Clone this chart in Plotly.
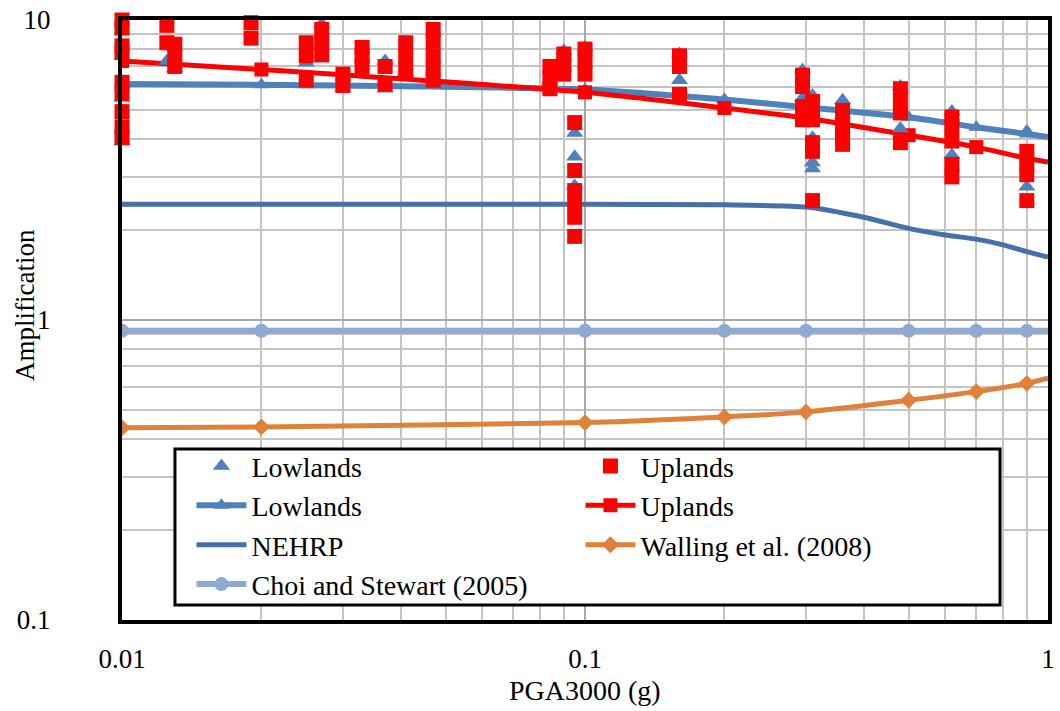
import plotly.graph_objects as go

# ---- data ---------------------------------------------------------------
# Site-amplification observations (PGA on rock, amplification factor)
lowland_pga = [0.01, 0.01, 0.01, 0.01, 0.0125, 0.013, 0.025, 0.025, 0.027, 0.03,
               0.037, 0.037, 0.041, 0.047, 0.09, 0.095, 0.095, 0.095, 0.1,
               0.16, 0.16, 0.295, 0.295, 0.31, 0.31, 0.31, 0.31, 0.36,
               0.48, 0.48, 0.62, 0.62, 0.9, 0.9]
lowland_amp = [9.2, 7.6, 5.5, 3.95, 7.3, 6.9, 7.2, 6.1, 9.7, 5.95,
               7.3, 5.9, 6.7, 6.2, 7.9, 4.2, 3.5, 2.8, 8.1,
               7.7, 6.3, 6.8, 5.5, 5.6, 4.05, 3.35, 3.2, 5.4,
               6.0, 4.35, 4.95, 3.55, 4.25, 2.78]

upland_pga = [0.01, 0.01, 0.01, 0.01, 0.01, 0.01, 0.01, 0.01, 0.01,
              0.0125, 0.0125, 0.013, 0.013, 0.013, 0.019, 0.019,
              0.025, 0.025, 0.025, 0.027, 0.027, 0.027, 0.03, 0.03,
              0.033, 0.033, 0.033, 0.037, 0.037, 0.041, 0.041, 0.041,
              0.047, 0.047, 0.047, 0.047, 0.047,
              0.084, 0.084, 0.084, 0.09, 0.09, 0.09,
              0.095, 0.095, 0.095, 0.095, 0.095, 0.095,
              0.1, 0.1, 0.1, 0.16, 0.16, 0.16,
              0.295, 0.295, 0.295, 0.295,
              0.31, 0.31, 0.31, 0.31, 0.31, 0.31,
              0.36, 0.36, 0.36, 0.36, 0.48, 0.48, 0.48, 0.48,
              0.62, 0.62, 0.62, 0.62, 0.62, 0.9, 0.9, 0.9, 0.9]
upland_amp = [10.0, 9.4, 8.2, 7.8, 6.2, 5.7, 4.95, 4.4, 4.05,
              9.6, 8.4, 8.3, 7.7, 7.0, 9.8, 8.7,
              8.4, 7.6, 6.3, 9.3, 8.45, 7.65, 6.6, 6.05,
              8.1, 7.6, 7.0, 7.0, 6.1, 8.4, 7.6, 6.8,
              9.3, 8.5, 7.6, 6.9, 6.3,
              7.0, 6.4, 5.9, 7.7, 7.1, 6.6,
              4.55, 3.15, 2.7, 2.45, 2.2, 1.9,
              8.0, 7.3, 6.6, 7.6, 7.0, 5.65,
              6.55, 6.0, 5.15, 4.65,
              5.35, 4.9, 4.65, 3.9, 3.65, 2.5,
              5.0, 4.5, 4.1, 3.85, 5.9, 5.4, 4.9, 3.9,
              4.75, 4.4, 3.95, 3.3, 3.0, 3.65, 3.35, 3.05, 2.5]

# Fitted / reference amplification models (last node sits on the x = 1 edge)
model_pga = [0.01, 0.02, 0.1, 0.2, 0.3, 0.5, 0.7, 0.9, 1.0]
lowland_fit = [6.12, 6.08, 5.87, 5.43, 5.12, 4.74, 4.39, 4.17, 4.07]
upland_fit = [7.3, 6.84, 5.74, 5.09, 4.71, 4.13, 3.77, 3.46, 3.36]
walling_2008 = [0.437, 0.44, 0.455, 0.475, 0.494, 0.54, 0.577, 0.615, 0.64]
choi_stewart_2005 = [0.92, 0.92, 0.92, 0.92, 0.92, 0.92, 0.92, 0.92, 0.92]

nehrp_pga = [0.01, 0.1, 0.2, 0.3, 0.4, 0.5, 0.6, 0.7, 0.8, 0.9, 1.0]
nehrp_amp = [2.43, 2.43, 2.42, 2.38, 2.2, 2.02, 1.92, 1.86, 1.78, 1.69, 1.62]

x_tickvals = [0.01, 0.1, 1]
x_ticktext = ["0.01", "0.1", "1"]
y_tickvals = [0.1, 1, 10]
y_ticktext = ["0.1", "1", "10"]

# ---- styling --------------------------------------------------------------
FONT = "Liberation Serif"
BLUE = "#4F81BD"
NEHRP_BLUE = "#4670A9"
RED = "#FF0000"
ORANGE = "#DF8139"
LIGHT_BLUE = "#8EA9D2"

fig = go.Figure()


def add_model(name, xs, ys, color, width, symbol, msize, rank, smooth=True):
    """Curve through every node, markers on all nodes but the x = 1 end,
    and a data-less entry that carries the legend symbol."""
    line = dict(color=color, width=width)
    if smooth:
        line.update(shape="spline", smoothing=0.6)
    fig.add_trace(go.Scatter(x=xs, y=ys, mode="lines", line=line,
                             showlegend=False, hoverinfo="skip"))
    if symbol:
        nodes = [(x, y) for x, y in zip(xs, ys) if x < 1.0]
        fig.add_trace(go.Scatter(x=[p[0] for p in nodes], y=[p[1] for p in nodes],
                                 mode="markers", showlegend=False,
                                 marker=dict(symbol=symbol, size=msize, color=color)))
    fig.add_trace(go.Scatter(
        x=[None], y=[None], name=name,
        mode="lines+markers" if symbol else "lines",
        line=dict(color=color, width=width),
        marker=dict(symbol=symbol or "circle", size=msize, color=color),
        legendrank=rank))


add_model("NEHRP", nehrp_pga, nehrp_amp, NEHRP_BLUE, 5, None, 0, 5)
add_model("Walling et al. (2008)", model_pga, walling_2008, ORANGE, 5, "diamond", 13, 6)
add_model("Choi and Stewart (2005)", model_pga, choi_stewart_2005, LIGHT_BLUE, 6,
          "circle", 14, 7, smooth=False)
add_model("Lowlands", model_pga, lowland_fit, BLUE, 6, "triangle-up", 14, 3)
add_model("Uplands", model_pga, upland_fit, RED, 5, "square", 14, 4)

fig.add_trace(go.Scatter(
    x=lowland_pga, y=lowland_amp, name="Lowlands", mode="markers",
    marker=dict(symbol="triangle-up", size=15, color=BLUE),
    cliponaxis=False, legendrank=1))
fig.add_trace(go.Scatter(
    x=upland_pga, y=upland_amp, name="Uplands", mode="markers",
    marker=dict(symbol="square", size=15, color=RED),
    cliponaxis=False, legendrank=2))

axis_common = dict(
    type="log",
    showline=True, linecolor="black", linewidth=4, mirror=True,
    showgrid=True, gridcolor="#A8A8A8", gridwidth=2,
    zeroline=False, ticks="",
    tickfont=dict(family=FONT, size=27, color="black"),
    minor=dict(dtick="D1", showgrid=True, gridcolor="#C4C4C4", gridwidth=2, ticks=""),
)

fig.update_xaxes(range=[-2, 0], tickmode="array", tickvals=x_tickvals,
                 ticktext=x_ticktext, ticklabelstandoff=12, **axis_common)
fig.update_yaxes(range=[-1, 1], tickmode="array", tickvals=y_tickvals,
                 ticktext=y_ticktext, ticklabelstandoff=62, **axis_common)

fig.update_layout(
    width=1060, height=711,
    margin=dict(l=122, r=12, t=20, b=91, autoexpand=False),
    paper_bgcolor="white", plot_bgcolor="white",
    font=dict(family=FONT, color="black"),
    showlegend=True,
    legend=dict(
        orientation="h", x=0.075, y=0.298, xanchor="left", yanchor="top",
        bgcolor="rgba(0,0,0,0)", borderwidth=0,
        font=dict(family=FONT, size=28, color="black"),
        entrywidth=324, entrywidthmode="pixels", itemwidth=50,
        traceorder="normal",
    ),
    shapes=[dict(
        type="rect", xref="paper", yref="paper",
        x0=0.0572, x1=0.9482, y0=0.025, y1=0.285,
        fillcolor="white", line=dict(color="black", width=3), layer="above")],
    annotations=[
        dict(text="Amplification", xref="paper", yref="paper", x=-0.1048, y=0.525,
             xanchor="center", yanchor="middle",
             textangle=-90, showarrow=False, font=dict(family=FONT, size=27)),
        dict(text="PGA3000 (g)", xref="paper", yref="paper", x=0.5, y=-0.1167,
             xanchor="center", yanchor="middle",
             showarrow=False, font=dict(family=FONT, size=28)),
    ],
)

fig.write_html("out.html")
